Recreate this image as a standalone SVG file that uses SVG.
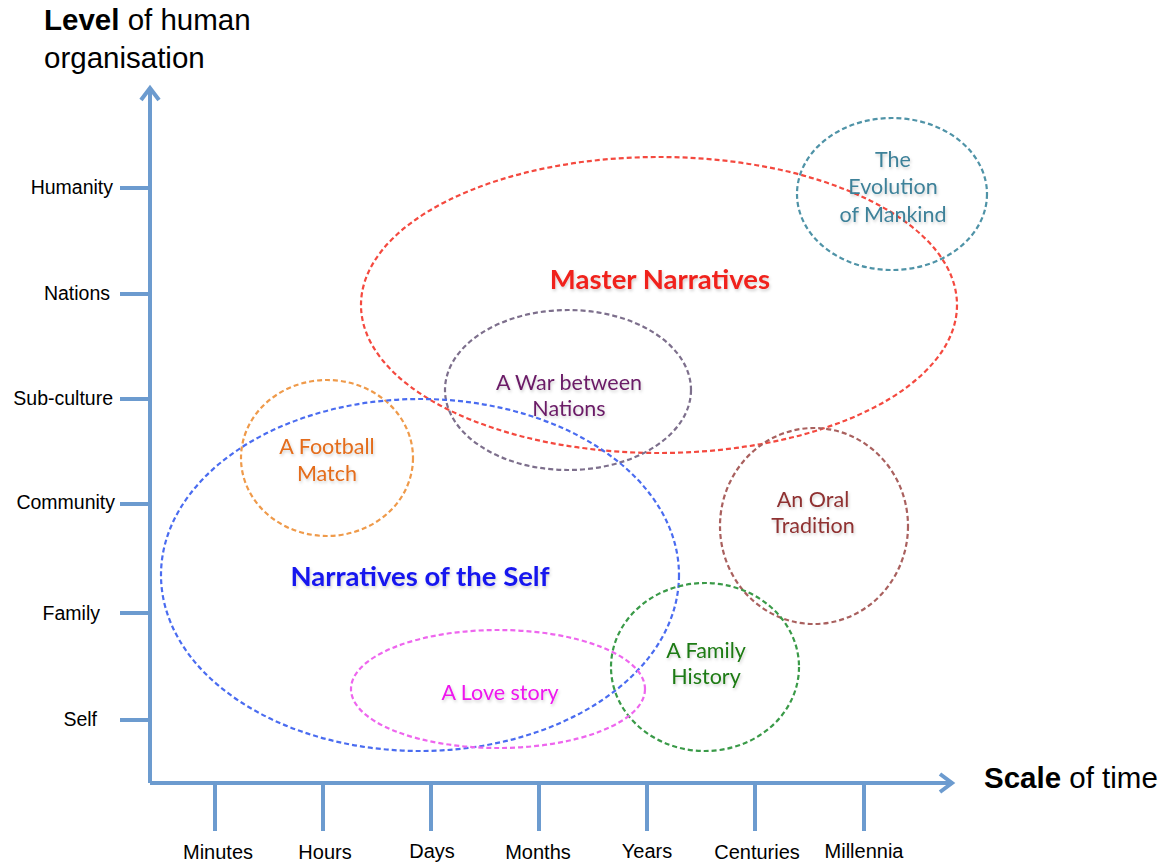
<svg xmlns="http://www.w3.org/2000/svg" width="1168" height="863" viewBox="0 0 1168 863">
<style>
.ax{stroke:#6c9bcf;stroke-width:4;fill:none;stroke-linecap:butt}
.tl{font-family:"Liberation Sans",Arial,sans-serif;font-size:19.5px;fill:#000}
.bl{font-family:"Liberation Sans",Arial,sans-serif;font-size:20px;fill:#000}
.ttl{font-family:"Liberation Sans",Arial,sans-serif;font-size:29.5px;fill:#000}
.el{fill:none;stroke-width:2.2;stroke-dasharray:5 3}
.lb{font-family:Lato,"Open Sans",sans-serif;font-size:21.5px;text-anchor:middle;filter:url(#sh)}
.big{font-family:Lato,"Open Sans",sans-serif;font-size:27.5px;font-weight:bold;text-anchor:middle;filter:url(#sh)}
</style>
<defs>
<filter id="sh" x="-10%" y="-30%" width="120%" height="160%">
<feDropShadow dx="1" dy="2" stdDeviation="1.5" flood-color="#000" flood-opacity="0.18"/>
</filter>
</defs>
<rect width="1168" height="863" fill="#fff"/>
<g id="axes">
<path class="ax" d="M150 783 V88 M150 783 H952"/>
<polyline class="ax" points="141,100 150,88 159,100"/>
<polyline class="ax" points="940,774 952,783 940,792"/>
<path class="ax" d="M120 188 H150 M120 294 H150 M120 399 H150 M120 504 H150 M120 613 H150 M120 720 H150"/>
<path class="ax" d="M215 783 V831 M323 783 V831 M431 783 V831 M539 783 V831 M647 783 V831 M755 783 V831 M864 783 V831"/>
</g>
<g id="axis-labels">
<text class="ttl" x="44" y="30"><tspan font-weight="bold">Level</tspan> of human</text>
<text class="ttl" x="44" y="68">organisation</text>
<text class="ttl" x="984" y="788"><tspan font-weight="bold">Scale</tspan> of time</text>
<g class="tl" text-anchor="end">
<text x="113" y="194">Humanity</text>
<text x="110" y="300">Nations</text>
<text x="113" y="405">Sub-culture</text>
<text x="115" y="509">Community</text>
<text x="100" y="620">Family</text>
<text x="97" y="726">Self</text>
</g>
<g class="bl" text-anchor="middle">
<text x="218" y="859">Minutes</text>
<text x="325" y="859">Hours</text>
<text x="432" y="858">Days</text>
<text x="538" y="859">Months</text>
<text x="647" y="858">Years</text>
<text x="757" y="859">Centuries</text>
<text x="864" y="858">Millennia</text>
</g>
</g>
<g id="master-narratives">
<ellipse class="el" cx="659" cy="305" rx="298" ry="148" stroke="#f4493f"/>
<text class="big" x="660" y="289" fill="#f0221c">Master Narratives</text>
</g>
<g id="evolution">
<ellipse class="el" cx="892" cy="194" rx="95" ry="76" stroke="#4f93a7"/>
<text class="lb" fill="#3e8199"><tspan x="893" y="167">The</tspan><tspan x="893" y="194">Evolution</tspan><tspan x="893" y="222">of Mankind</tspan></text>
</g>
<g id="war">
<ellipse class="el" cx="568" cy="390" rx="123" ry="80" stroke="#7d6f8c"/>
<text class="lb" fill="#6a1a66"><tspan x="569" y="390">A War between</tspan><tspan x="569" y="416">Nations</tspan></text>
</g>
<g id="football">
<ellipse class="el" cx="327" cy="458" rx="86" ry="78" stroke="#ef9a4a"/>
<text class="lb" fill="#e46c1a"><tspan x="327" y="454">A Football</tspan><tspan x="327" y="481">Match</tspan></text>
</g>
<g id="self">
<ellipse class="el" cx="420" cy="575" rx="259" ry="176" stroke="#4a6cf0"/>
<text class="big" x="420" y="586" fill="#1515ee">Narratives of the Self</text>
</g>
<g id="oral">
<ellipse class="el" cx="814" cy="526" rx="94" ry="98" stroke="#a9605e"/>
<text class="lb" fill="#8f3030"><tspan x="813" y="507">An Oral</tspan><tspan x="813" y="533">Tradition</tspan></text>
</g>
<g id="family-history">
<ellipse class="el" cx="705" cy="667" rx="94" ry="84" stroke="#3a9a48"/>
<text class="lb" fill="#1c7a12"><tspan x="706" y="658">A Family</tspan><tspan x="706" y="684">History</tspan></text>
</g>
<g id="love">
<ellipse class="el" cx="498" cy="689" rx="147" ry="59" stroke="#ee66ee"/>
<text class="lb" x="500" y="700" fill="#ee16ee">A Love story</text>
</g>
</svg>
